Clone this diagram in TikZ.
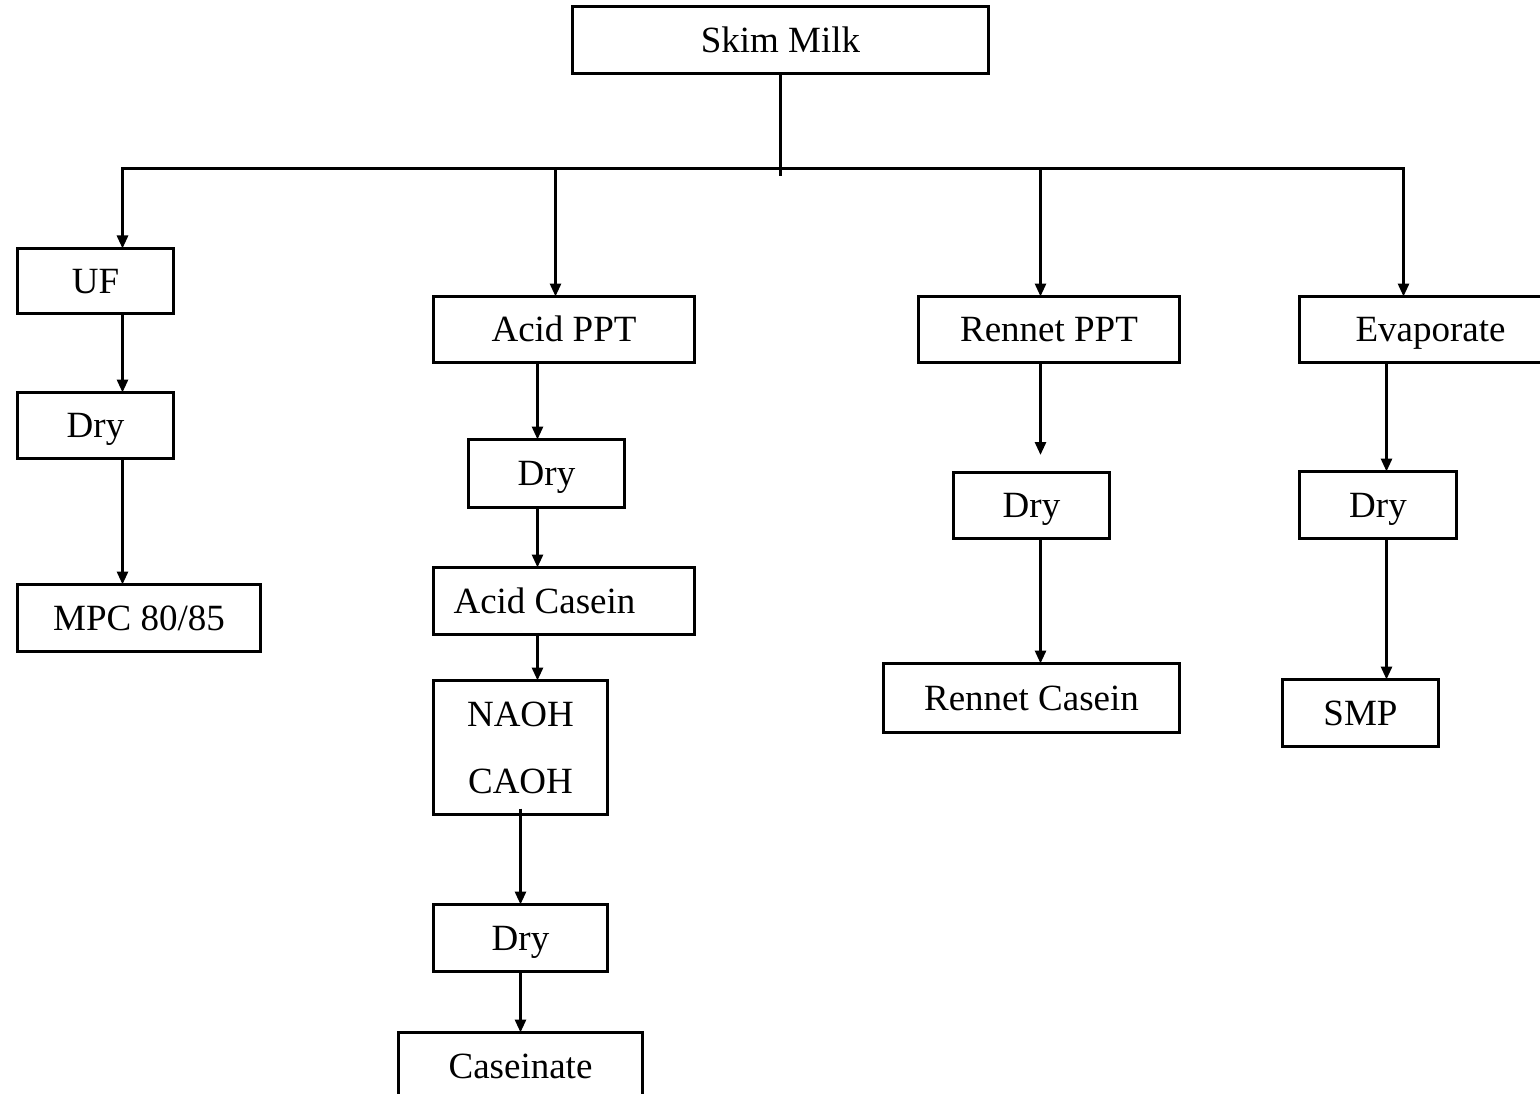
\documentclass[tikz,border=0pt]{standalone}
\usepackage{fontspec}
\setmainfont{Liberation Serif}
\usetikzlibrary{arrows.meta}
\newcommand\figfont{\fontsize{37}{44}\selectfont}
\begin{document}
\begin{tikzpicture}[x=1pt,y=-1pt,line width=2.8pt,
  boxb/.style={draw, line width=2.8pt, inner sep=0pt, outer sep=0pt, anchor=north west, font=\figfont},
  box/.style={boxb, text height=24.5pt, text depth=0pt},
  arr/.style={draw, line width=2.8pt, -{Triangle[length=13pt,width=11pt]}},
  busline/.style={draw, line width=2.8pt, line cap=rect}]
\useasboundingbox (0,0) rectangle (1540,1094);
\clip (0,0) rectangle (1540,1094);
% boxes
\node[box, minimum width=416pt, minimum height=67pt] (skim) at (572.5,6.5) {Skim Milk};
\node[box, minimum width=156pt, minimum height=65pt] (uf) at (17.5,248.5) {UF};
\node[box, minimum width=156pt, minimum height=66pt] (dry1) at (17.5,392.5) {Dry};
\node[box, minimum width=243pt, minimum height=67pt] (mpc) at (17.5,584.5) {MPC 80/85};
\node[box, minimum width=261pt, minimum height=66pt] (acid) at (433.5,296.5) {Acid PPT};
\node[box, minimum width=156pt, minimum height=68pt] (dry2) at (468.5,439.5) {Dry};
\node[box, minimum width=261pt, minimum height=67pt] (acas) at (433.5,567.5) {\hspace*{-39pt}Acid Casein};
\node[boxb, minimum width=174pt, minimum height=134pt, align=center, font=\fontsize{37}{67}\selectfont] (naoh) at (433.5,680.5) {NAOH\\CAOH};
\node[box, minimum width=174pt, minimum height=67pt] (dry3) at (433.5,904.5) {Dry};
\node[box, minimum width=244pt, minimum height=67pt] (cas) at (398.5,1032.5) {Caseinate};
\node[box, minimum width=261pt, minimum height=66pt] (rppt) at (918.5,296.5) {Rennet PPT};
\node[box, minimum width=156pt, minimum height=66pt] (dry4) at (953.5,472.5) {Dry};
\node[box, minimum width=296pt, minimum height=69pt] (rcas) at (883.5,663.5) {Rennet Casein};
\node[box, minimum width=262pt, minimum height=66pt] (evap) at (1299.5,296.5) {Evaporate};
\node[box, minimum width=157pt, minimum height=67pt] (dry5) at (1299.5,471.5) {Dry};
\node[box, minimum width=156pt, minimum height=67pt] (smp) at (1282.5,679.5) {SMP};
% coordinates
\coordinate (j0) at (780.5,174.5);
\coordinate (b1) at (122.5,168.5);
\coordinate (b2) at (555.5,168.5);
\coordinate (b3) at (1040.5,168.5);
\coordinate (b4) at (1403.5,168.5);
\coordinate (cA) at (537.5,0);
\coordinate (cN) at (520.5,0);
\coordinate (cE) at (1386.5,0);
\coordinate (rend) at (1040.5,455);
% connectors
\draw[busline] (skim.south -| j0) -- (j0);
\draw[busline] (b1) -- (b4);
\draw[arr] (b1) -- (b1 |- uf.north);
\draw[arr] (b2) -- (b2 |- acid.north);
\draw[arr] (b3) -- (b3 |- rppt.north);
\draw[arr] (b4) -- (b4 |- evap.north);
\draw[arr] (uf.south -| b1) -- (dry1.north -| b1);
\draw[arr] (dry1.south -| b1) -- (mpc.north -| b1);
\draw[arr] (acid.south -| cA) -- (dry2.north -| cA);
\draw[arr] (dry2.south -| cA) -- (acas.north -| cA);
\draw[arr] (acas.south -| cA) -- (naoh.north -| cA);
\draw[arr] ([yshift=6pt]naoh.south -| cN) -- (dry3.north -| cN);
\draw[arr] (dry3.south -| cN) -- (cas.north -| cN);
\draw[arr] (rppt.south -| b3) -- (rend);
\draw[arr] (dry4.south -| b3) -- (rcas.north -| b3);
\draw[arr] (evap.south -| cE) -- (dry5.north -| cE);
\draw[arr] (dry5.south -| cE) -- (smp.north -| cE);
\end{tikzpicture}
\end{document}
